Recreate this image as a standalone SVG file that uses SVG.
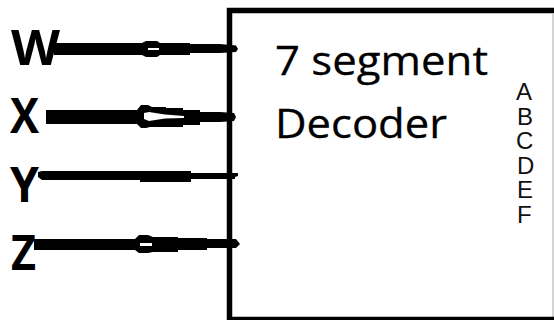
<svg xmlns="http://www.w3.org/2000/svg" width="554" height="320" viewBox="0 0 554 320">
<style>
.pin{font:700 48px "Open Sans",sans-serif;fill:#000}
.title{font:400 41px "Open Sans",sans-serif;fill:#000;stroke:#000;stroke-width:.3}
.out{font:400 24px "Liberation Sans",sans-serif;fill:#111}
.w{fill:#000;stroke:none}
.hole{fill:#fff}
</style>
<rect width="554" height="320" fill="#fff"/>
<g id="decoder">
<path d="M553 14V317" stroke="#aaa" stroke-width="1" fill="none"/>
<path d="M229.500 320V10.500H554" stroke="#000" stroke-width="5.500" fill="none"/>
<path d="M230 318.500H554" stroke="#000" stroke-width="3.500" fill="none"/>
<text class="title" x="275" y="75" textLength="213" lengthAdjust="spacingAndGlyphs">7 segment</text>
<text class="title" x="275" y="138" textLength="172" lengthAdjust="spacingAndGlyphs">Decoder</text>
<g class="out" id="outputs">
<text x="516" y="100">A</text>
<text x="517" y="124.500">B</text>
<text x="516" y="149">C</text>
<text x="517" y="173.500">D</text>
<text x="517" y="198">E</text>
<text x="517" y="222.500">F</text>
</g>
</g>
<g id="connectors">
<path class="w" d="M54 43H142L146 41H157L160 43H190V44H220L236 45.500L238 49L236 52L220 53H190V55H160L157 57H146L142 55H54Z"/>
<path class="hole" d="M148 48H159V50H148Z"/>
<path class="w" d="M46 110H137L141 105H148L152 107H166V108H183V110H200V112H220L234 113L236 117L234 121L220 122H200V125H183V127H166V127H150L146 128H141L137 124H46Z"/>
<path class="hole" d="M144 113L149 112L165 114.500L184 116V118L165 118.500L149 121L144 119Z"/>
<path class="w" d="M38 172L42 171H191V173H238V176L235 177V179H191V182H140V180H42L38 177Z"/>
<path class="w" d="M34 239H135L139 235H148L153 237H178V238H207V239H236L240 244L236 248H207V250H178V252H153L148 253H139L135 250H34Z"/>
<path class="hole" d="M140 243H152V246H140Z"/>
</g>
<g id="W"><text class="pin" x="11" y="65" textLength="49" lengthAdjust="spacingAndGlyphs">W</text></g>
<g id="X"><text class="pin" x="10" y="133" textLength="29" lengthAdjust="spacingAndGlyphs">X</text></g>
<g id="Y"><text class="pin" x="10" y="202" textLength="29" lengthAdjust="spacingAndGlyphs">Y</text></g>
<g id="Z"><text class="pin" x="11" y="270" textLength="25" lengthAdjust="spacingAndGlyphs">Z</text></g>
</svg>
